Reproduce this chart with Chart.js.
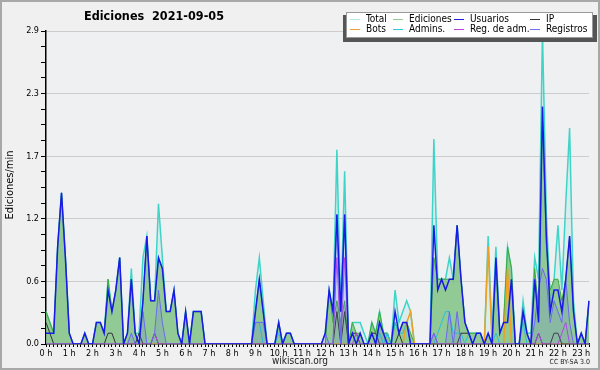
<!DOCTYPE html>
<html>
<head>
<meta charset="utf-8">
<script src="https://cdn.jsdelivr.net/npm/chart.js@4/dist/chart.umd.min.js"></script>
<style>
  html, body { margin: 0; padding: 0; background: #f0f0f0; }
  canvas { display: block; }
</style>
</head>
<body>
<canvas id="chart" width="600" height="370"></canvas>
<script>
// 10-minute bins from 0:00 to 23:20, values in edits per minute
const bins = [];
for (let h = 0; h < 24; h++) {
  for (let m = 0; m < 60; m += 10) {
    if (bins.length < 141) bins.push(`${h}:${String(m).padStart(2, "0")}`);
  }
}

const total = [
  0.3, 0.2, 0.1, 0.9, 1.4, 0.8, 0.1, 0, 0, 0, 0.1, 0,
  0, 0.2, 0.2, 0.1, 0.6, 0.3, 0.5, 0.8, 0, 0.1, 0.7, 0.1,
  0.1, 0.8, 1.0, 0.4, 0.4, 1.3, 0.8, 0.3, 0.3, 0.5, 0.1, 0,
  0.3, 0, 0.3, 0.3, 0.3, 0, 0, 0, 0, 0, 0, 0,
  0, 0, 0, 0, 0, 0, 0.5, 0.8, 0.4, 0, 0, 0,
  0.2, 0, 0.1, 0.1, 0, 0, 0, 0, 0, 0, 0, 0,
  0.1, 0.5, 0.3, 1.8, 0.3, 1.6, 0, 0.2, 0.2, 0.2, 0.1, 0,
  0.2, 0.1, 0.3, 0.1, 0.1, 0, 0.5, 0.2, 0.3, 0.4, 0.3, 0,
  0, 0, 0, 0, 1.9, 0.6, 0.6, 0.6, 0.8, 0.6, 1.1, 0.6,
  0.2, 0.1, 0.1, 0.1, 0.1, 0, 1.0, 0.1, 0.9, 0.1, 0.2, 0.9,
  0.7, 0, 0, 0.4, 0.1, 0.1, 0.8, 0.6, 2.9, 1.2, 0.4, 0.6,
  1.1, 0.5, 1.3, 2.0, 0.4, 0, 0.1, 0, 0.4,
];

const ediciones = [
  0.3, 0.2, 0.1, 0.9, 1.4, 0.8, 0.1, 0, 0, 0, 0.1, 0,
  0, 0.2, 0.2, 0.1, 0.6, 0.3, 0.5, 0.8, 0, 0.1, 0.6, 0.1,
  0, 0.4, 1.0, 0.4, 0.4, 0.8, 0.7, 0.3, 0.3, 0.5, 0.1, 0,
  0.3, 0, 0.3, 0.3, 0.3, 0, 0, 0, 0, 0, 0, 0,
  0, 0, 0, 0, 0, 0, 0.3, 0.6, 0.3, 0, 0, 0,
  0.2, 0, 0.1, 0.1, 0, 0, 0, 0, 0, 0, 0, 0,
  0, 0.5, 0.2, 0.4, 0.2, 0.4, 0, 0.2, 0.1, 0.1, 0, 0,
  0.2, 0.1, 0.3, 0.1, 0.1, 0, 0.2, 0.1, 0.2, 0.2, 0.1, 0,
  0, 0, 0, 0, 0.8, 0.6, 0.6, 0.6, 0.6, 0.6, 1.1, 0.6,
  0.2, 0.1, 0.1, 0.1, 0.1, 0, 0.1, 0, 0.7, 0.1, 0.2, 0.9,
  0.7, 0, 0, 0.3, 0.1, 0, 0.7, 0.3, 2.1, 0.9, 0.5, 0.6,
  0.6, 0.4, 0.6, 1.0, 0.3, 0, 0.1, 0, 0.4,
];

const usuarios = [
  0.1, 0.1, 0.1, 0.9, 1.4, 0.8, 0.1, 0, 0, 0, 0.1, 0,
  0, 0.2, 0.2, 0.1, 0.5, 0.3, 0.5, 0.8, 0, 0.1, 0.6, 0.1,
  0, 0.4, 1.0, 0.4, 0.4, 0.8, 0.7, 0.3, 0.3, 0.5, 0.1, 0,
  0.3, 0, 0.3, 0.3, 0.3, 0, 0, 0, 0, 0, 0, 0,
  0, 0, 0, 0, 0, 0, 0.3, 0.6, 0.3, 0, 0, 0,
  0.2, 0, 0.1, 0.1, 0, 0, 0, 0, 0, 0, 0, 0,
  0.1, 0.5, 0.3, 1.2, 0.3, 1.2, 0, 0.1, 0, 0.1, 0, 0,
  0.1, 0, 0.2, 0.1, 0, 0, 0.3, 0.1, 0.2, 0.2, 0, 0,
  0, 0, 0, 0, 1.1, 0.5, 0.6, 0.5, 0.6, 0.6, 1.1, 0.6,
  0.2, 0.1, 0, 0.1, 0.1, 0, 0.1, 0, 0.8, 0.1, 0.2, 0.2,
  0.6, 0, 0, 0.3, 0.1, 0, 0.6, 0.2, 2.2, 1.0, 0.3, 0.5,
  0.5, 0.3, 0.6, 1.0, 0.3, 0, 0.1, 0, 0.4,
];

const ip = [
  0.2, 0.1, 0, 0, 0, 0, 0, 0, 0, 0, 0, 0,
  0, 0, 0, 0, 0.1, 0.1, 0, 0, 0, 0, 0, 0,
  0.1, 0, 0, 0, 0.1, 0, 0, 0, 0, 0, 0, 0,
  0, 0, 0, 0, 0, 0, 0, 0, 0, 0, 0, 0,
  0, 0, 0, 0, 0, 0, 0, 0, 0, 0, 0, 0,
  0, 0, 0, 0, 0, 0, 0, 0, 0, 0, 0, 0,
  0, 0, 0, 0.3, 0, 0.3, 0, 0.1, 0.1, 0, 0, 0,
  0.1, 0.1, 0, 0, 0, 0, 0, 0.1, 0, 0, 0, 0,
  0, 0, 0, 0, 0, 0, 0, 0, 0, 0, 0, 0.1,
  0.1, 0.1, 0, 0, 0, 0, 0, 0, 0, 0, 0, 0,
  0, 0, 0, 0, 0, 0, 0, 0.1, 0, 0, 0, 0.1,
  0.1, 0, 0, 0, 0, 0, 0, 0, 0,
];

const bots = [
  0, 0, 0, 0, 0, 0, 0, 0, 0, 0, 0, 0,
  0, 0, 0, 0, 0, 0, 0, 0, 0, 0, 0, 0,
  0, 0, 0, 0, 0, 0, 0, 0, 0, 0, 0, 0,
  0, 0, 0, 0, 0, 0, 0, 0, 0, 0, 0, 0,
  0, 0, 0, 0, 0, 0, 0, 0, 0, 0, 0, 0,
  0, 0, 0, 0, 0, 0, 0, 0, 0, 0, 0, 0,
  0, 0, 0, 0, 0, 0, 0, 0, 0, 0, 0, 0,
  0, 0, 0, 0, 0, 0, 0, 0, 0, 0.2, 0.3, 0,
  0, 0, 0, 0, 0, 0, 0, 0, 0, 0, 0, 0,
  0, 0, 0, 0, 0, 0, 0.9, 0, 0, 0, 0, 0.7,
  0, 0, 0, 0, 0, 0, 0, 0, 0, 0, 0, 0,
  0, 0, 0, 0, 0, 0, 0, 0, 0,
];

const admins = [
  0, 0, 0, 0, 0, 0, 0, 0, 0, 0, 0, 0,
  0, 0, 0, 0, 0, 0, 0, 0, 0, 0, 0, 0,
  0, 0, 0, 0, 0, 0, 0, 0, 0, 0, 0, 0,
  0, 0, 0, 0, 0, 0, 0, 0, 0, 0, 0, 0,
  0, 0, 0, 0, 0, 0, 0.2, 0.2, 0, 0, 0, 0,
  0.1, 0, 0, 0, 0, 0, 0, 0, 0, 0, 0, 0,
  0, 0, 0, 0, 0, 0, 0, 0, 0, 0, 0, 0,
  0, 0, 0.1, 0, 0.1, 0, 0.2, 0.1, 0.1, 0.2, 0, 0,
  0, 0, 0, 0, 0, 0.1, 0.2, 0.3, 0.3, 0.1, 0.1, 0.1,
  0, 0.1, 0, 0, 0, 0, 0, 0, 0.1, 0, 0, 0,
  0, 0, 0, 0.2, 0, 0, 0, 0, 0, 0, 0, 0,
  0, 0, 0, 0, 0, 0, 0, 0, 0,
];

const regAdm = [
  0, 0, 0, 0, 0, 0, 0, 0, 0, 0, 0, 0,
  0, 0, 0, 0, 0, 0, 0, 0, 0, 0, 0, 0,
  0, 0, 0, 0, 0.1, 0, 0, 0, 0, 0, 0, 0,
  0, 0, 0, 0, 0, 0, 0, 0, 0, 0, 0, 0,
  0, 0, 0, 0, 0, 0, 0, 0, 0, 0, 0, 0,
  0, 0, 0, 0, 0, 0, 0, 0, 0, 0, 0, 0,
  0, 0, 0, 0.8, 0, 0.8, 0, 0, 0.1, 0, 0, 0,
  0, 0, 0, 0, 0, 0, 0, 0, 0, 0, 0, 0,
  0, 0, 0, 0, 0.1, 0, 0, 0, 0, 0, 0, 0,
  0, 0, 0, 0, 0, 0, 0, 0, 0, 0, 0, 0,
  0, 0, 0, 0, 0, 0, 0, 0.1, 0, 0, 0, 0,
  0, 0.1, 0.2, 0, 0, 0, 0, 0, 0,
];

const registros = [
  0, 0, 0, 0, 0, 0, 0, 0, 0, 0, 0, 0,
  0, 0, 0, 0, 0, 0, 0, 0, 0, 0, 0.1, 0,
  0, 0.3, 0, 0, 0.1, 0.5, 0.2, 0, 0, 0, 0, 0,
  0, 0, 0, 0, 0, 0, 0, 0, 0, 0, 0, 0,
  0, 0, 0, 0, 0, 0, 0.2, 0.2, 0.2, 0, 0, 0,
  0, 0, 0, 0, 0, 0, 0, 0, 0, 0, 0, 0,
  0.1, 0, 0, 1.2, 0, 1.2, 0, 0, 0, 0, 0, 0,
  0, 0, 0.2, 0.1, 0, 0, 0, 0, 0, 0, 0, 0,
  0, 0, 0, 0, 0.1, 0, 0, 0, 0.3, 0, 0.3, 0,
  0, 0, 0, 0, 0, 0, 0, 0, 0, 0, 0, 0,
  0, 0, 0, 0, 0, 0, 0.2, 0.5, 0.7, 0.6, 0.2, 0.4,
  0.3, 0.2, 0.6, 0.2, 0, 0, 0, 0, 0,
];

const yMax = 2.9;
const yMinorStep = 0.145;

const FONT = '"DejaVu Sans Condensed", "Liberation Sans Narrow", "DejaVu Sans", sans-serif';

const legendItems = [
  { label: "Total", color: "#aee8e0", col: 0, row: 0 },
  { label: "Ediciones", color: "#8fd08f", col: 1, row: 0 },
  { label: "Usuarios", color: "#2020e0", col: 2, row: 0 },
  { label: "IP", color: "#333333", col: 3, row: 0 },
  { label: "Bots", color: "#f0a030", col: 0, row: 1 },
  { label: "Admins.", color: "#30c8d8", col: 1, row: 1 },
  { label: "Reg. de adm.", color: "#c040e0", col: 2, row: 1 },
  { label: "Registros", color: "#7070f0", col: 3, row: 1 },
];

function line(label, data, color, extra) {
  return Object.assign({
    label,
    data,
    borderColor: color,
    backgroundColor: color,
    borderWidth: 1,
    pointRadius: 0,
    tension: 0,
    fill: false,
  }, extra || {});
}

const frame = {
  id: "frame",
  beforeDraw(chart) {
    const { ctx, chartArea: a } = chart;
    ctx.save();
    ctx.fillStyle = "#f0f0f0";
    ctx.fillRect(0, 0, chart.width, chart.height);
    ctx.strokeStyle = "#a8a8a8";
    ctx.lineWidth = 2;
    ctx.strokeRect(1, 1, chart.width - 2, chart.height - 2);
    ctx.fillStyle = "#eef0f2";
    ctx.fillRect(a.left, a.top, a.right - a.left, a.bottom - a.top);
    ctx.restore();
  },
  afterDraw(chart) {
    const { ctx } = chart;
    ctx.save();
    ctx.fillStyle = "#000";
    ctx.textBaseline = "middle";
    ctx.textAlign = "center";
    ctx.font = `bold 12.5px ${FONT}`;
    ctx.fillText("Ediciones  2021-09-05", 154, 17);

    ctx.font = `11px ${FONT}`;
    ctx.save();
    ctx.translate(10, 185);
    ctx.rotate(-Math.PI / 2);
    ctx.fillText("Ediciones/min", 0, 0);
    ctx.restore();

    ctx.font = `10px ${FONT}`;
    ctx.fillStyle = "#222";
    ctx.fillText("wikiscan.org", 300, 361);
    ctx.font = `7px ${FONT}`;
    ctx.textAlign = "right";
    ctx.fillText("CC BY-SA 3.0", 590, 362);

    // legend box with shadow
    ctx.fillStyle = "#555";
    ctx.fillRect(343, 15, 254, 27);
    ctx.fillStyle = "#fff";
    ctx.fillRect(346, 12, 247, 26);
    ctx.strokeStyle = "#999";
    ctx.lineWidth = 1;
    ctx.strokeRect(346.5, 12.5, 246, 25);

    const colX = [350, 393, 454, 530];
    const rowY = [19.5, 29.5];
    ctx.font = `10px ${FONT}`;
    ctx.textAlign = "left";
    ctx.fillStyle = "#000";
    legendItems.forEach((it) => {
      const x = colX[it.col];
      const y = rowY[it.row];
      ctx.strokeStyle = it.color;
      ctx.beginPath();
      ctx.moveTo(x, y);
      ctx.lineTo(x + 10, y);
      ctx.stroke();
      ctx.fillText(it.label, x + 16, y);
    });
    ctx.restore();
  },
};

new Chart(document.getElementById("chart"), {
  type: "line",
  data: {
    labels: bins,
    datasets: [
      line("Usuarios", usuarios, "#1a1ae8", { borderWidth: 1.5, order: 0 }),
      line("Registros", registros, "#6a6af0", { order: 1, fill: "origin", backgroundColor: "rgba(100,110,220,0.18)" }),
      line("Reg. de adm.", regAdm, "#c040e0", { order: 2 }),
      line("IP", ip, "#333333", { order: 3 }),
      line("Bots", bots, "#f0a020", { order: 4, borderWidth: 1.5 }),
      line("Admins.", admins, "#28c0dc", { order: 5 }),
      line("Ediciones", ediciones, "#3aaa3a", { order: 6, fill: "origin", backgroundColor: "rgba(125,192,125,0.78)" }),
      line("Total", total, "#3fd4c8", { order: 7, borderWidth: 1.5, fill: "origin", backgroundColor: "rgba(110,215,200,0.15)" }),
    ],
  },
  plugins: [frame],
  options: {
    responsive: false,
    animation: false,
    devicePixelRatio: 1,
    layout: { padding: { top: 31, right: 11, left: 0, bottom: 0 } },
    plugins: {
      legend: { display: false },
      title: { display: false },
      tooltip: { enabled: false },
    },
    scales: {
      x: {
        type: "category",
        afterFit: (s) => { s.height = 26; },
        border: { color: "#000", width: 1.5 },
        grid: {
          drawOnChartArea: false,
          drawTicks: true,
          tickLength: 3,
          tickColor: "#000",
        },
        ticks: {
          autoSkip: false,
          maxRotation: 0,
          padding: 1,
          color: "#000",
          font: { family: FONT, size: 9 },
          callback: (v, i) => (i % 6 === 0 ? `${i / 6} h` : ""),
        },
      },
      y: {
        min: 0,
        max: yMax,
        afterFit: (s) => { s.width = 46; },
        afterBuildTicks: (s) => {
          s.ticks = [];
          for (let k = 0; k <= 20; k++) s.ticks.push({ value: k * yMinorStep });
        },
        border: { color: "#000", width: 1.5 },
        grid: {
          color: (c) => (c.index % 4 === 0 && c.index > 0 ? "#cccccc" : "rgba(0,0,0,0)"),
          tickColor: "#000",
          tickLength: 5,
        },
        ticks: {
          padding: 2,
          color: "#000",
          font: { family: FONT, size: 9 },
          callback: (v, i) => (i % 4 === 0 ? v.toFixed(1) : ""),
        },
      },
    },
  },
});
</script>
</body>
</html>
